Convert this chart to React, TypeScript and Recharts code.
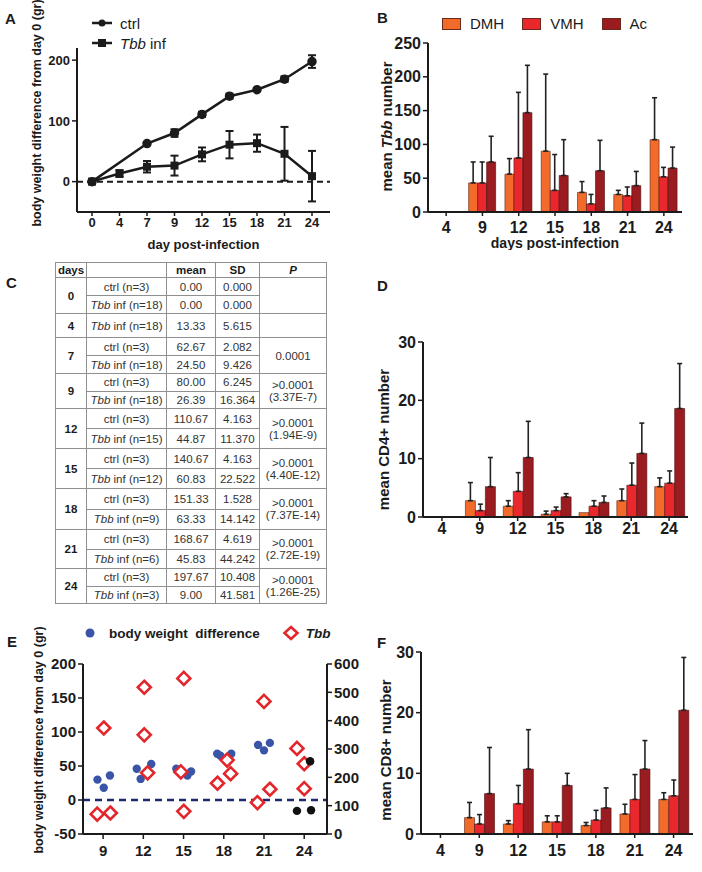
import React from "react";
import {
  LineChart,
  Line,
  BarChart,
  Bar,
  ScatterChart,
  Scatter,
  XAxis,
  YAxis,
  ErrorBar,
  ReferenceLine,
  Legend,
} from "recharts";

const FONT = '"Liberation Sans", Arial, Helvetica, sans-serif';
const INK = "#1b1b1b";
const DMH_C = "#f26b2b";
const VMH_C = "#e8282c";
const AC_C = "#9a1c20";

// ---- panel A + table C (body weight, mean / SD per day)
const days = [0, 4, 7, 9, 12, 15, 18, 21, 24];
const ctrlN = [3, null, 3, 3, 3, 3, 3, 3, 3];
const ctrlMean = [0, null, 62.67, 80.0, 110.67, 140.67, 151.33, 168.67, 197.67];
const ctrlSd = [0, null, 2.082, 6.245, 4.163, 4.163, 1.528, 4.619, 10.408];
const tbbN = [18, 18, 18, 18, 15, 12, 9, 6, 3];
const tbbMean = [0, 13.33, 24.5, 26.39, 44.87, 60.83, 63.33, 45.83, 9.0];
const tbbSd = [0, 5.615, 9.426, 16.364, 11.37, 22.522, 14.142, 44.242, 41.581];
const pMain = ["", "", "0.0001", ">0.0001", ">0.0001", ">0.0001", ">0.0001", ">0.0001", ">0.0001"];
const pExact = ["", "", "", "(3.37E-7)", "(1.94E-9)", "(4.40E-12)", "(7.37E-14)", "(2.72E-19)", "(1.26E-25)"];
const groupH = [36, 24, 36, 35, 40, 40, 41, 39, 35];

// ---- panels B, D, F (cell counts per region)
const cellDays = ["4", "9", "12", "15", "18", "21", "24"];
const regions = ["DMH", "VMH", "Ac"];

const tbbDmh = [0, 43, 56, 90, 29, 26, 107];
const tbbDmhErr = [null, 31, 23, 114, 16, 6, 62];
const tbbVmh = [0, 43, 80, 32, 12, 24, 52];
const tbbVmhErr = [null, 31, 97, 53, 14, 13, 14];
const tbbAc = [0, 74, 147, 54, 61, 39, 65];
const tbbAcErr = [null, 38, 70, 53, 45, 21, 31];

const cd4Dmh = [0, 2.8, 1.85, 0.46, 0.75, 2.8, 5.2];
const cd4DmhErr = [null, 3.1, 0.95, 0.55, null, 2.0, 1.5];
const cd4Vmh = [0, 1.1, 4.4, 1.1, 1.85, 5.45, 5.8];
const cd4VmhErr = [null, 1.1, 3.2, 0.6, 0.95, 3.8, 2.1];
const cd4Ac = [0, 5.2, 10.2, 3.45, 2.5, 10.9, 18.6];
const cd4AcErr = [null, 5.0, 6.2, 0.55, 1.1, 5.2, 7.7];

const cd8Dmh = [0, 2.7, 1.65, 2.0, 1.4, 3.3, 5.7];
const cd8DmhErr = [null, 2.5, 0.55, 1.0, 0.5, 1.6, 1.1];
const cd8Vmh = [0, 1.65, 5.0, 2.0, 2.3, 5.7, 6.3];
const cd8VmhErr = [null, 1.55, 3.0, 1.0, 1.6, 4.1, 2.6];
const cd8Ac = [0, 6.66, 10.7, 8.0, 4.3, 10.7, 20.4];
const cd8AcErr = [null, 7.6, 6.5, 2.0, 3.3, 4.7, 8.7];

// ---- panel E (individual animals)
const bwX = [8.58, 9.05, 9.51, 11.51, 11.8, 12.59, 14.46, 15.29, 15.56, 17.51, 17.75, 18.56, 20.56, 21.0, 21.44];
const bwY = [30, 18, 36, 46, 31, 53, 46, 36, 42, 68, 65, 68, 81, 73, 84];
const bw24X = [23.46, 24.44, 24.51];
const bw24Y = [-16, 57, -15];
const tbbX = [9.05, 8.56, 9.54, 12.07, 12.07, 12.32, 15.02, 14.8, 15.02, 17.53, 18.25, 18.51, 21.0, 20.51, 21.44, 23.46, 24.0, 24.0];
const tbbY = [374, 70, 74, 518, 350, 216, 549, 219, 80, 179, 261, 213, 468, 111, 158, 302, 248, 160];
const eSeries = ["body weight  difference", "Tbb"];

const lineData = days.map((d, i) => ({
  day: String(d),
  ctrl: ctrlMean[i],
  ctrlSd: ctrlSd[i],
  tbb: tbbMean[i],
  tbbSd: tbbSd[i],
}));

const up = (v: number | null) => (v == null ? null : [0, v]);
function cellRows(dmh: number[], dmhE: (number | null)[], vmh: number[], vmhE: (number | null)[], ac: number[], acE: (number | null)[]) {
  return cellDays.map((day, i) => ({
    day,
    DMH: dmh[i],
    VMH: vmh[i],
    Ac: ac[i],
    dmhErr: up(dmhE[i]),
    vmhErr: up(vmhE[i]),
    acErr: up(acE[i]),
  }));
}

const pts = (xs: number[], ys: number[]) => xs.map((x, i) => ({ x, y: ys[i] }));

// legend payloads come back sorted; put them back in the figure's order
const ordered = (payload: any[] | undefined, order: string[], key: string) =>
  (payload || [])
    .filter((e) => order.includes(e[key]))
    .sort((a, b) => order.indexOf(a[key]) - order.indexOf(b[key]));

type Part = { t: string; i?: boolean };
const yLabel = (parts: Part[], x: number, dy: number, size: number) => (props: any) => {
  const vb = props.viewBox;
  const y = vb.y + vb.height / 2 + dy;
  return (
    <text x={x} y={y} transform={`rotate(-90 ${x} ${y})`} textAnchor="middle" dominantBaseline="central"
      fontSize={size} fontWeight="bold" fill={INK}>
      {parts.map((p, k) => (
        <tspan key={k} fontStyle={p.i ? "italic" : "normal"}>{p.t}</tspan>
      ))}
    </text>
  );
};
const xLabel = (text: string, dy: number, size: number) => (props: any) => {
  const vb = props.viewBox;
  return (
    <text x={vb.x + vb.width / 2} y={vb.y + dy} textAnchor="middle" dominantBaseline="central"
      fontSize={size} fontWeight="bold" fill={INK}>
      {text}
    </text>
  );
};

const axisLine = { stroke: INK, strokeWidth: 2 };
const tickLine = { stroke: INK, strokeWidth: 1.5 };

const squareDot = (p: any) =>
  p.cx == null ? null : <rect key={p.index} x={p.cx - 4} y={p.cy - 4} width={8} height={8} fill={INK} />;

const legendA = (props: any) => (
  <div style={{ fontFamily: FONT, fontSize: 15, color: INK }}>
    {ordered(props.payload, ["ctrl", "tbb"], "dataKey").map((e: any) => (
      <div key={e.dataKey} style={{ display: "flex", alignItems: "center", height: 20 }}>
        <svg width={24} height={12} style={{ marginRight: 6 }}>
          <line x1={2} y1={6} x2={22} y2={6} stroke={INK} strokeWidth={2.5} />
          {e.dataKey === "ctrl" ? <circle cx={12} cy={6} r={3.5} fill={INK} /> : <rect x={8} y={2} width={8} height={8} fill={INK} />}
        </svg>
        {e.dataKey === "ctrl" ? "ctrl" : <span><i>Tbb</i> inf</span>}
      </div>
    ))}
  </div>
);

const legendB = (props: any) => (
  <div style={{ display: "flex", fontFamily: FONT, fontSize: 15, color: INK }}>
    {ordered(props.payload, regions, "value").map((e: any) => (
      <div key={e.value} style={{ display: "flex", alignItems: "center", marginRight: 18 }}>
        <span style={{ display: "inline-block", width: 17, height: 10, background: e.color, border: "1px solid #6a2a1a", marginRight: 9 }} />
        {e.value}
      </div>
    ))}
  </div>
);

const legendE = (props: any) => (
  <div style={{ display: "flex", alignItems: "center", fontFamily: FONT, fontSize: 13.5, fontWeight: 700, color: INK }}>
    {ordered(props.payload, eSeries, "value").map((e: any) => (
      <div key={e.value} style={{ display: "flex", alignItems: "center", marginRight: 22 }}>
        <svg width={18} height={16} style={{ marginRight: e.value === "Tbb" ? 6 : 10 }}>
          {e.value === "Tbb" ? (
            <path d="M9,2L15.5,8L9,14L2.5,8Z" fill="#fff" stroke="#e3262b" strokeWidth={2.6} />
          ) : (
            <circle cx={9} cy={8} r={4.5} fill="#3a55a8" />
          )}
        </svg>
        <span style={{ whiteSpace: "pre", fontStyle: e.value === "Tbb" ? "italic" : "normal" }}>{e.value}</span>
      </div>
    ))}
  </div>
);

const circleShape = (fill: string) => (p: any) => <circle cx={p.cx} cy={p.cy} r={4.2} fill={fill} />;
const diamondShape = (p: any) => (
  <path d={`M${p.cx},${p.cy - 6.5}L${p.cx + 6.5},${p.cy}L${p.cx},${p.cy + 6.5}L${p.cx - 6.5},${p.cy}Z`}
    fill="#fff" stroke="#e3262b" strokeWidth={2.6} />
);

function CellChart(props: {
  data: any[]; top: number; width: number; height: number; yWidth: number; right: number; plotTop: number;
  yMax: number; yTicks: number[]; label: Part[]; labelX: number; labelDy: number; tickGap: number;
  xTitle?: string; legend?: boolean;
}) {
  const p = props;
  return (
    <div style={{ position: "absolute", left: 350, top: p.top }}>
      <BarChart width={p.width} height={p.height} data={p.data} barCategoryGap="12%" barGap={0}
        margin={{ top: p.plotTop, right: p.right, left: 0, bottom: 0 }}>
        <XAxis dataKey="day" height={38} axisLine={axisLine} tickLine={tickLine} tickSize={4} tickMargin={p.tickGap}
          tick={{ fill: INK, fontSize: 16, fontWeight: 700 }}
          label={p.xTitle ? xLabel(p.xTitle, 31, 14) : undefined} />
        <YAxis width={p.yWidth} domain={[0, p.yMax]} ticks={p.yTicks} axisLine={axisLine} tickLine={tickLine}
          tickSize={5} tickMargin={2} tick={{ fill: INK, fontSize: 16, fontWeight: 700 }}
          label={yLabel(p.label, p.labelX, p.labelDy, 15)} />
        {p.legend && (
          <Legend verticalAlign="middle" align="center" layout="horizontal" content={legendB}
            wrapperStyle={{ left: 92, top: 15, width: "auto" }} />
        )}
        <Bar dataKey="DMH" fill={DMH_C} stroke="#5a2414" strokeWidth={0.6} isAnimationActive={false}>
          <ErrorBar dataKey="dmhErr" width={2.5} stroke="#222" strokeWidth={1.6} />
        </Bar>
        <Bar dataKey="VMH" fill={VMH_C} stroke="#5a1414" strokeWidth={0.6} isAnimationActive={false}>
          <ErrorBar dataKey="vmhErr" width={2.5} stroke="#222" strokeWidth={1.6} />
        </Bar>
        <Bar dataKey="Ac" fill={AC_C} stroke="#4a0c0c" strokeWidth={0.6} isAnimationActive={false}>
          <ErrorBar dataKey="acErr" width={2.5} stroke="#222" strokeWidth={1.6} />
        </Bar>
      </BarChart>
    </div>
  );
}

function StatsTable() {
  const cell: React.CSSProperties = { border: "1px solid #8f8f8f", padding: 0, textAlign: "center", verticalAlign: "middle" };
  const head: React.CSSProperties = { ...cell, fontWeight: 700, color: INK };
  const colW = [31, 80, 49, 44, 67];
  return (
    <table style={{ position: "absolute", left: 55, top: 262, borderCollapse: "collapse", tableLayout: "fixed", width: 271,
      fontSize: 11.5, lineHeight: "12px", color: "#333", fontFamily: FONT }}>
      <colgroup>{colW.map((w, i) => <col key={i} style={{ width: w }} />)}</colgroup>
      <thead>
        <tr style={{ height: 15 }}>
          <th style={head}>days</th>
          <th style={head}></th>
          <th style={head}>mean</th>
          <th style={head}>SD</th>
          <th style={{ ...head, fontStyle: "italic" }}>P</th>
        </tr>
      </thead>
      <tbody>
        {days.map((d, i) => {
          const hasCtrl = ctrlMean[i] != null;
          const span = hasCtrl ? 2 : 1;
          const h = hasCtrl ? groupH[i] / 2 : groupH[i];
          const dayCell = <td rowSpan={span} style={{ ...cell, fontWeight: 700, color: INK }}>{d}</td>;
          const pCell = (
            <td rowSpan={span} style={cell}>
              {pMain[i]}
              {pExact[i] && <><br />{pExact[i]}</>}
            </td>
          );
          const tbbCells = [
            <td key="g" style={cell}><i>Tbb</i> inf (n={tbbN[i]})</td>,
            <td key="m" style={cell}>{tbbMean[i].toFixed(2)}</td>,
            <td key="s" style={cell}>{tbbSd[i].toFixed(3)}</td>,
          ];
          if (!hasCtrl) {
            return <tr key={`t${d}`} style={{ height: h }}>{dayCell}{tbbCells}{pCell}</tr>;
          }
          return [
            <tr key={`c${d}`} style={{ height: h }}>
              {dayCell}
              <td style={cell}>ctrl (n={ctrlN[i]})</td>
              <td style={cell}>{(ctrlMean[i] as number).toFixed(2)}</td>
              <td style={cell}>{(ctrlSd[i] as number).toFixed(3)}</td>
              {pCell}
            </tr>,
            <tr key={`t${d}`} style={{ height: h }}>{tbbCells}</tr>,
          ];
        })}
      </tbody>
    </table>
  );
}

const letter = (ch: string, x: number, y: number) => (
  <div key={ch} style={{ position: "absolute", left: x, top: y, fontSize: 15, fontWeight: 700, lineHeight: "15px", color: INK }}>{ch}</div>
);

export default function App() {
  return (
    <div style={{ position: "relative", width: 702, height: 872, background: "#fff", fontFamily: FONT, color: INK, overflow: "hidden" }}>
      <style>{"body{margin:0}"}</style>

      {/* A */}
      <div style={{ position: "absolute", left: 0, top: 0 }}>
        <LineChart width={345} height={252} data={lineData} margin={{ top: 48, right: 15, left: 0, bottom: 2 }}>
          <XAxis dataKey="day" height={38} padding={{ left: 15, right: 18 }} axisLine={axisLine} tickLine={tickLine}
            tickSize={4} tickMargin={2} tick={{ fill: INK, fontSize: 13, fontWeight: 700 }}
            label={xLabel("day post-infection", 32, 13)} />
          <YAxis width={77} domain={[-50, 220]} ticks={[0, 100, 200]} allowDataOverflow axisLine={axisLine}
            tickLine={tickLine} tickSize={5} tickMargin={2} tick={{ fill: INK, fontSize: 13, fontWeight: 700 }}
            label={yLabel([{ t: "body weight difference from day 0 (gr)" }], 37, -17, 12.5)} />
          <ReferenceLine y={0} stroke={INK} strokeWidth={2} strokeDasharray="6 4" />
          <Legend verticalAlign="middle" align="center" layout="horizontal" content={legendA}
            wrapperStyle={{ left: 90, top: 13, width: "auto" }} />
          <Line dataKey="ctrl" name="ctrl" stroke={INK} strokeWidth={2.5} connectNulls isAnimationActive={false}
            dot={{ r: 3.5, fill: INK, stroke: INK }}>
            <ErrorBar dataKey="ctrlSd" width={4} stroke={INK} strokeWidth={2} />
          </Line>
          <Line dataKey="tbb" name="Tbb inf" stroke={INK} strokeWidth={2.5} isAnimationActive={false} dot={squareDot}>
            <ErrorBar dataKey="tbbSd" width={4} stroke={INK} strokeWidth={2} />
          </Line>
        </LineChart>
      </div>

      {/* B */}
      <CellChart data={cellRows(tbbDmh, tbbDmhErr, tbbVmh, tbbVmhErr, tbbAc, tbbAcErr)} top={0} width={345} height={250}
        plotTop={43} right={13} yWidth={78} yMax={250} yTicks={[0, 50, 100, 150, 200, 250]}
        label={[{ t: "mean " }, { t: "Tbb", i: true }, { t: " number" }]} labelX={36} labelDy={-1} tickGap={6}
        xTitle="days post-infection" legend />

      {/* C */}
      <StatsTable />

      {/* D */}
      <CellChart data={cellRows(cd4Dmh, cd4DmhErr, cd4Vmh, cd4VmhErr, cd4Ac, cd4AcErr)} top={300} width={345} height={255}
        plotTop={42} right={7} yWidth={73} yMax={30} yTicks={[0, 10, 20, 30]}
        label={[{ t: "mean CD4+ number" }]} labelX={33} labelDy={10} tickGap={2} />

      {/* E */}
      <div style={{ position: "absolute", left: 0, top: 610 }}>
        <ScatterChart width={372} height={262} margin={{ top: 54, right: 5, left: 0, bottom: 0 }}>
          <XAxis type="number" dataKey="x" domain={[7.5, 25.7]} ticks={[9, 12, 15, 18, 21, 24]} allowDataOverflow height={38}
            axisLine={axisLine} tickLine={tickLine} tickSize={5} tickMargin={6} tick={{ fill: INK, fontSize: 15, fontWeight: 700 }} />
          <YAxis yAxisId="bw" type="number" dataKey="y" width={83} domain={[-50, 200]} ticks={[-50, 0, 50, 100, 150, 200]}
            axisLine={axisLine} tickLine={tickLine} tickSize={5} tickMargin={2} tick={{ fill: INK, fontSize: 15, fontWeight: 700 }}
            label={yLabel([{ t: "body weight difference from day 0 (gr)" }], 39, -9, 12.5)} />
          <YAxis yAxisId="tbb" orientation="right" type="number" dataKey="y" width={40} domain={[0, 600]}
            ticks={[0, 100, 200, 300, 400, 500, 600]} axisLine={axisLine} tickLine={tickLine} tickSize={5} tickMargin={2}
            tick={{ fill: INK, fontSize: 15, fontWeight: 700 }} />
          <ReferenceLine yAxisId="bw" y={0} stroke="#1f2a6e" strokeWidth={2.5} strokeDasharray="7 5" />
          <Legend verticalAlign="middle" align="center" layout="horizontal" content={legendE}
            wrapperStyle={{ left: 81, top: 15, width: "auto" }} />
          <Scatter yAxisId="bw" name={eSeries[0]} data={pts(bwX, bwY)} fill="#3a55a8"
            shape={circleShape("#3a55a8")} isAnimationActive={false} />
          <Scatter yAxisId="tbb" name={eSeries[1]} data={pts(tbbX, tbbY)} fill="#e3262b" shape={diamondShape} isAnimationActive={false} />
          <Scatter yAxisId="bw" name="day 24" legendType="none" data={pts(bw24X, bw24Y)} fill="#111"
            shape={circleShape("#111")} isAnimationActive={false} />
        </ScatterChart>
      </div>

      {/* F */}
      <CellChart data={cellRows(cd8Dmh, cd8DmhErr, cd8Vmh, cd8VmhErr, cd8Ac, cd8AcErr)} top={610} width={350} height={262}
        plotTop={42} right={7} yWidth={71} yMax={30} yTicks={[0, 10, 20, 30]}
        label={[{ t: "mean CD8+ number" }]} labelX={35} labelDy={7} tickGap={7} />

      {letter("A", 5, 11)}
      {letter("B", 377, 10)}
      {letter("C", 6, 275)}
      {letter("D", 377, 278)}
      {letter("E", 7, 634)}
      {letter("F", 377, 635)}
    </div>
  );
}
